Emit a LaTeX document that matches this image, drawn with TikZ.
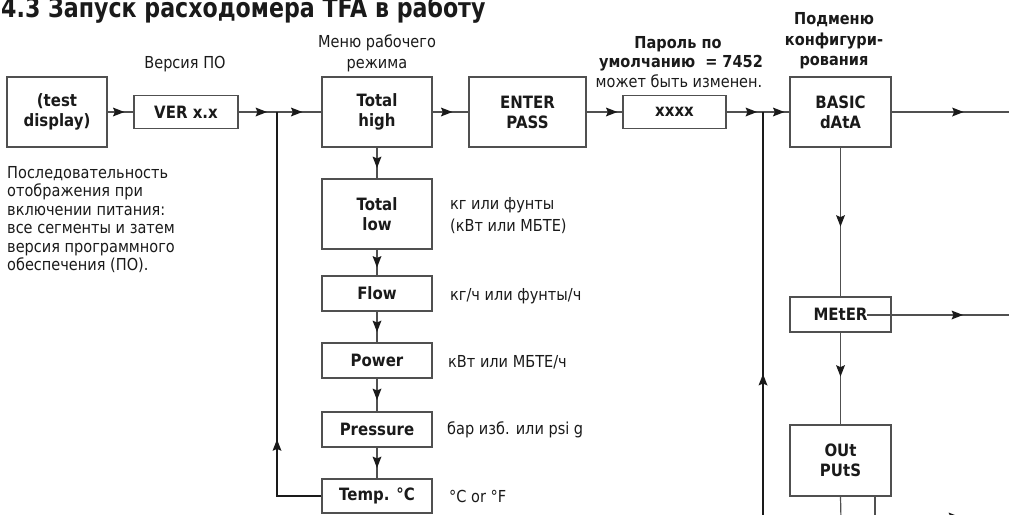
\documentclass[tikz,border=0pt]{standalone}
\usepackage{fontspec}
\setmainfont{DejaVu Sans}[FakeStretch=0.88]
\newfontfamily\titlefont{DejaVu Sans}[FakeStretch=0.82]
\usetikzlibrary{decorations.markings}
\definecolor{ln}{HTML}{505050}
\definecolor{dk}{HTML}{1A1A1A}
\tikzset{
  box/.style={draw=ln, line width=1.2pt, inner sep=0pt, align=center, text=dk,
    font=\bfseries\fontsize{17}{20}\selectfont},
  conn/.style={draw=ln, line width=1.2pt},
  fb/.style={draw=dk, line width=1.2pt},
  arr/.style={postaction={decorate}, decoration={markings,
    mark=at position #1 with {\fill[dk] (5pt,0pt) -- (-6.5pt,4.5pt) -- (-4.5pt,0pt) -- (-6.5pt,-4.5pt) -- cycle;}}},
  lab/.style={inner sep=0pt, text=dk, font=\fontsize{16.5}{19}\selectfont},
  blab/.style={inner sep=0pt, text=dk, font=\bfseries\fontsize{16.5}{19}\selectfont},
  ttl/.style={inner sep=0pt, text=dk, font=\titlefont\bfseries\fontsize{27}{30}\selectfont},
}
\begin{document}
\begin{tikzpicture}[x=1pt, y=-1pt]
\useasboundingbox (0,0) rectangle (1009,514);
\clip (0,0) rectangle (1009,514);

% title
\node[ttl, anchor=base west] (title) at (1,17) {4.3 Запуск расходомера TFA в работу};

% top labels
\node[lab, anchor=base] (lver) at (185,68) {Версия ПО};
\node[lab, anchor=base] (lmenu1) at (377,47) {Меню рабочего};
\node[lab, anchor=base] (lmenu2) at (377,68) {режима};
\node[blab, anchor=base] (lpw1) at (678,48) {Пароль по};
\node[blab, anchor=base] (lpw2) at (681,67) {умолчанию \ = 7452};
\node[lab, anchor=base] (lpw3) at (679,87) {может быть изменен.};
\node[blab, anchor=base] (lsub1) at (834,24) {Подменю};
\node[blab, anchor=base] (lsub2) at (834,45) {конфигури-};
\node[blab, anchor=base] (lsub3) at (834,65) {рования};

% left paragraph
\node[lab, anchor=base west] (p1) at (7,178) {Последовательность};
\node[lab, anchor=base west] (p2) at (7,196.5) {отображения при};
\node[lab, anchor=base west] (p3) at (7,215) {включении питания:};
\node[lab, anchor=base west] (p4) at (7,233.5) {все сегменты и затем};
\node[lab, anchor=base west] (p5) at (7,252) {версия программного};
\node[lab, anchor=base west] (p6) at (7,270.5) {обеспечения (ПО).};

% boxes
\node[box, minimum width=100pt, minimum height=70pt] (td) at (57,112) {(test\\display)};
\node[box, minimum width=104pt, minimum height=33pt] (ver) at (186,112) {VER x.x};
\node[box, minimum width=110pt, minimum height=70pt] (th) at (377,112) {Total\\high};
\node[box, minimum width=117pt, minimum height=70pt] (ep) at (527.5,112) {ENTER\\PASS};
\node[box, minimum width=103pt, minimum height=33pt] (xx) at (674.5,112) {xxxx};
\node[box, minimum width=101pt, minimum height=70pt] (bd) at (840.5,112) {BASIC\\dAtA};
\node[box, minimum width=110pt, minimum height=70pt] (tl) at (377,214) {Total\\low};
\node[box, minimum width=110pt, minimum height=35pt] (fl) at (377,293.5) {Flow};
\node[box, minimum width=110pt, minimum height=35pt] (pw) at (377,360.5) {Power};
\node[box, minimum width=110pt, minimum height=35pt] (pr) at (377,429.5) {Pressure};
\node[box, minimum width=110pt, minimum height=34pt] (tc) at (377,496) {Temp. °C};
\node[box, minimum width=101pt, minimum height=35pt] (mt) at (840.5,314.5) {MEtER};
\node[box, minimum width=101pt, minimum height=71pt] (op) at (840.5,460.5) {OUt\\PUtS};

% side labels
\node[lab, anchor=base west] (s1) at (450,209) {кг или фунты};
\node[lab, anchor=base west] (s2) at (450,231) {(кВт или МБТЕ)};
\node[lab, anchor=base west] (s3) at (450,300) {кг/ч или фунты/ч};
\node[lab, anchor=base west] (s4) at (448,367) {кВт или МБТЕ/ч};
\node[lab, anchor=base west] (s5) at (447,434) {бар изб. или psi g};
\node[lab, anchor=base west] (s6) at (449,502) {°C or °F};

% coordinates
\coordinate (j1) at (277,112);
\coordinate (j2) at (763,112);
\coordinate (bdo) at (1009,112);
\coordinate (ms) at (867,315);
\coordinate (mo) at (1009,315);
\coordinate (b1) at (763,520);
\coordinate (b2) at (841,520);
\coordinate (o2) at (875,496);
\coordinate (b3) at (1009,517);

% main row
\draw[conn, arr=-14pt] (td.east) -- (ver.west);
\draw[conn, arr=-15pt] (ver.east) -- (j1);
\draw[conn, arr=-24pt] (j1) -- (th.west);
\draw[conn, arr=-21pt] (th.east) -- (ep.west);
\draw[conn, arr=-10pt] (ep.east) -- (xx.west);
\draw[conn, arr=-11pt] (xx.east) -- (j2);
\draw[conn, arr=-10pt] (j2) -- (bd.west);
\draw[conn, arr=67pt] (bd.east) -- (bdo);

% left column
\draw[conn, arr=0.5] (th.south) -- (tl.north);
\draw[conn, arr=0.5] (tl.south) -- (fl.north);
\draw[conn, arr=0.5] (fl.south) -- (pw.north);
\draw[conn, arr=0.5] (pw.south) -- (pr.north);
\draw[conn, arr=0.5] (pr.south) -- (tc.north);
\draw[fb, arr=96pt] (tc.west) -| (j1);

% right column
\draw[conn, arr=74pt] (bd.south) -- (mt.north);
\draw[conn, arr=39pt] (mt.south) -- (op.north);
\draw[conn, arr=91pt] (ms) -- (mo);
\draw[fb, arr=141pt] (b1) -- (j2);
\draw[conn] (op.south) -- (b2);
\draw[conn, arr=101pt] (o2) |- (b3);
\end{tikzpicture}
\end{document}
